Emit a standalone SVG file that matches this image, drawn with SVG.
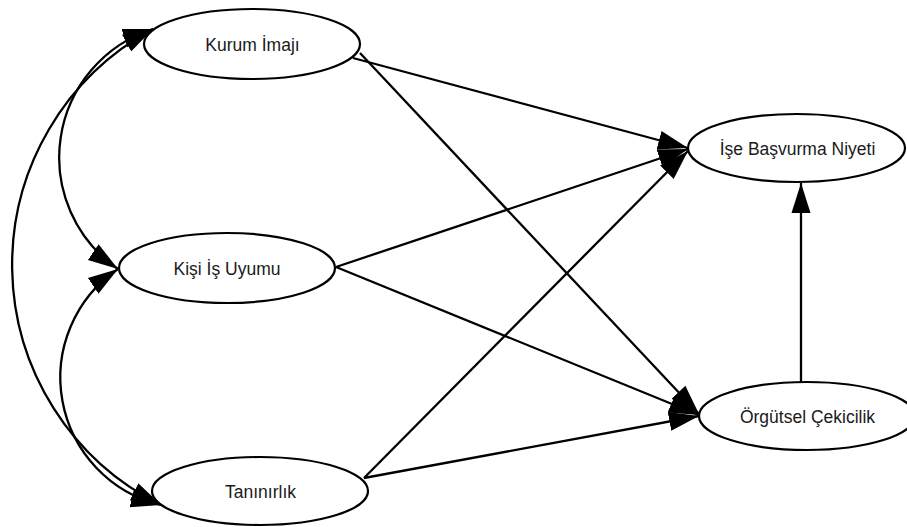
<svg xmlns="http://www.w3.org/2000/svg" width="907" height="527" viewBox="0 0 907 527">
<style>
.node ellipse{fill:#fff;stroke:#000;stroke-width:2.2}
.node text{font-family:"Liberation Sans",Arial,sans-serif;font-size:17.5px;fill:#1a1a1a;text-anchor:middle}
.edge{fill:none;stroke:#000;stroke-width:2.3}
</style>
<defs>
<marker id="ah" markerUnits="userSpaceOnUse" markerWidth="32" markerHeight="24" viewBox="0 0 32 24" refX="30" refY="12" orient="auto-start-reverse">
<path d="M0,2.5 L30,12 L0,21.5 z" fill="#000"/>
</marker>
</defs>
<rect width="907" height="527" fill="#fff"/>
<g id="connectors">
<path class="edge" d="M153,29 A268,268 0 0 0 161,505" marker-start="url(#ah)" marker-end="url(#ah)"/>
<path class="edge" d="M153,29 A135,135 0 0 0 118,269" marker-start="url(#ah)" marker-end="url(#ah)"/>
<path class="edge" d="M118,269 A131,131 0 0 0 161,505" marker-start="url(#ah)" marker-end="url(#ah)"/>
<path class="edge" d="M353,58 L688,148" marker-end="url(#ah)"/>
<path class="edge" d="M360,53 L699,414" marker-end="url(#ah)"/>
<path class="edge" d="M336,267 L688,149" marker-end="url(#ah)"/>
<path class="edge" d="M336,267 L699,415" marker-end="url(#ah)"/>
<path class="edge" d="M364,478 L688,151" marker-end="url(#ah)"/>
<path class="edge" d="M364,478 L699,416" marker-end="url(#ah)"/>
<path class="edge" d="M801,382 L801,183" marker-end="url(#ah)"/>
</g>
<g id="kurum" class="node">
<ellipse cx="252" cy="44" rx="108" ry="35"/>
<text x="252.5" y="50.5">Kurum İmajı</text>
</g>
<g id="kisi" class="node">
<ellipse cx="227" cy="268" rx="108" ry="35"/>
<text x="227" y="274.5">Kişi İş Uyumu</text>
</g>
<g id="taninirlik" class="node">
<ellipse cx="260" cy="491" rx="108" ry="34"/>
<text x="260.5" y="497.5">Tanınırlık</text>
</g>
<g id="ise" class="node">
<ellipse cx="796.5" cy="148" rx="108.5" ry="34"/>
<text x="797.5" y="154.5">İşe Başvurma Niyeti</text>
</g>
<g id="orgutsel" class="node">
<ellipse cx="807" cy="416" rx="108" ry="34"/>
<text x="807.5" y="422.5">Örgütsel Çekicilik</text>
</g>
</svg>
